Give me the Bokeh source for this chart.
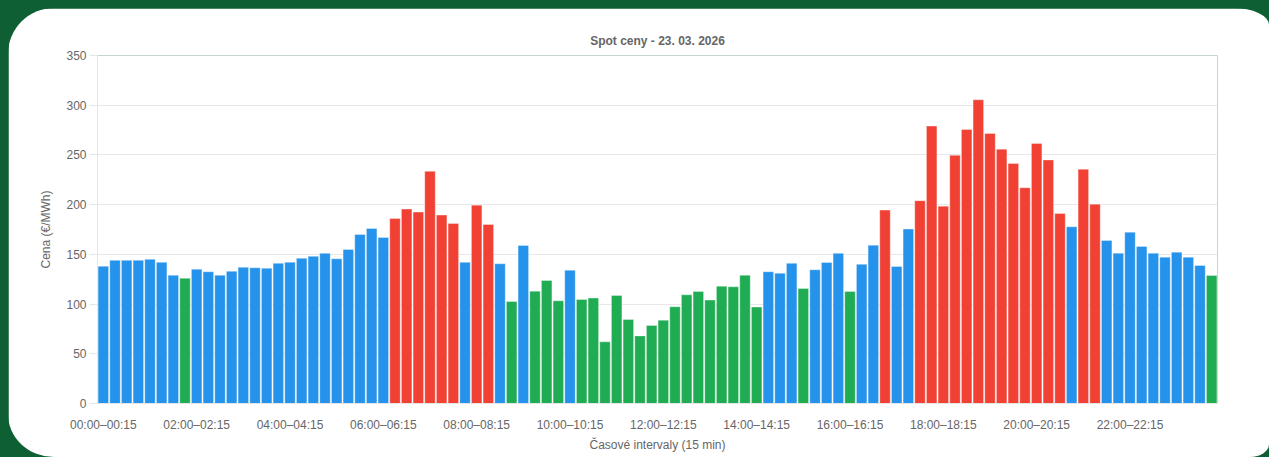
from bokeh.plotting import figure
from bokeh.models import Range1d, FixedTicker, ColumnDataSource, GlobalInlineStyleSheet
from bokeh.embed import file_html
from bokeh.resources import INLINE

# ---- data ----
title_text = "Spot ceny - 23. 03. 2026"
y_label = "Cena (€/MWh)"
x_label = "Časové intervaly (15 min)"

intervals = []
for q in range(96):
    h1, m1 = divmod(q * 15, 60)
    h2, m2 = divmod(q * 15 + 15, 60)
    intervals.append(f"{h1:02d}:{m1:02d}–{h2 % 24:02d}:{m2:02d}")

prices = [
    138, 144, 144, 144, 145, 142, 129, 126, 135, 132.5, 129, 133, 137, 136.5, 136, 141,
    142, 146, 148, 151, 145.5, 155, 170, 176, 167, 186, 195.5, 192.5, 233.5, 189.5, 181, 142,
    199.5, 180, 140.5, 102.6, 159, 113, 123.7, 103.3, 134, 104.6, 106, 62, 108.6, 84.5, 68, 78.5,
    83.8, 97.3, 109.3, 112.7, 104, 118, 117.4, 129, 97, 132.5, 131, 141, 115.7, 134.5, 141.8, 151,
    112.7, 140, 159.2, 194.5, 137.8, 175.4, 204, 279, 198.5, 249.6, 275.6, 305.5, 271.6, 255.8, 241.4, 217,
    261.5, 245, 191, 177.7, 235.7, 200.5, 164, 151.2, 172.3, 158, 151.2, 147.2, 152.2, 147.2, 138.8, 128.8,
]

# price level per interval: L = low (green), M = mid (blue), H = high (red)
levels = (
    "MMMMMMMLMMMMMMMM"
    "MMMMMMMMMHHHHHHM"
    "HHMLMLLLMLLLLLLL"
    "LLLLLLLLLMMMLMMM"
    "LMMHMMHHHHHHHHHH"
    "HHHMHHMMMMMMMMML"
)

level_colors = {"L": "#1fac52", "M": "#2592eb", "H": "#f04134"}
y_ticks = [0, 50, 100, 150, 200, 250, 300, 350]
x_tick_idx = list(range(0, 96, 8))

src = ColumnDataSource(dict(
    x=list(range(len(prices))),
    top=prices,
    color=[level_colors[c] for c in levels],
    label=intervals,
))

p = figure(
    width=1261, height=449,
    output_backend="svg", toolbar_location=None,
    x_range=Range1d(-0.5, 95.5), y_range=Range1d(0, 350),
    min_border_left=89, min_border_right=52, min_border_top=47, min_border_bottom=54,
    background_fill_color="white", border_fill_color="white", outline_line_color=None,
)
p.outline_line_color = None
p.outline_line_alpha = 0
p.styles = {
    "border-top-left-radius": "46px",
    "border-top-right-radius": "36px 17px",
    "border-bottom-right-radius": "19px 13px",
    "border-bottom-left-radius": "46px 43px",
    "overflow": "hidden",
}
p.stylesheets = [GlobalInlineStyleSheet(
    css="html { background-color: #0f5f34; margin: 0; padding: 0; overflow: hidden; } "
        "body { background-color: #0f5f34; margin: 0; padding: 8px 0 0 8px; overflow: hidden; }"
)]

p.vbar(x="x", top="top", width=0.9, source=src, fill_color="color",
       line_color="white", line_alpha=0.35, line_width=1)

font = "Liberation Sans"
txt = "#666666"

p.title.text = title_text
p.title.align = "center"
p.title.text_font = font
p.title.text_font_size = "12px"
p.title.text_font_style = "bold"
p.title.text_color = txt
p.title.standoff = 16

# y axis
p.yaxis.ticker = FixedTicker(ticks=y_ticks)
p.yaxis.axis_label = y_label
p.yaxis.axis_label_text_font = font
p.yaxis.axis_label_text_font_size = "12px"
p.yaxis.axis_label_text_font_style = "normal"
p.yaxis.axis_label_text_color = txt
p.yaxis.axis_label_standoff = 10
p.yaxis.major_label_text_font = font
p.yaxis.major_label_text_font_size = "12px"
p.yaxis.major_label_text_color = txt
p.yaxis.major_label_standoff = 3
p.yaxis.major_tick_out = 8
p.yaxis.major_tick_in = 0
p.yaxis.minor_tick_line_color = None
p.yaxis.major_tick_line_color = "#e6e6e6"
p.yaxis.axis_line_color = "#e6e6e6"

# x axis
p.xaxis.ticker = FixedTicker(ticks=x_tick_idx)
p.xaxis.major_label_overrides = {i: intervals[i] for i in x_tick_idx}
p.xaxis.axis_label = x_label
p.xaxis.axis_label_text_font = font
p.xaxis.axis_label_text_font_size = "12px"
p.xaxis.axis_label_text_font_style = "normal"
p.xaxis.axis_label_text_color = txt
p.xaxis.axis_label_standoff = 3
p.xaxis.major_label_text_font = font
p.xaxis.major_label_text_font_size = "12px"
p.xaxis.major_label_text_color = txt
p.xaxis.major_label_standoff = 14
p.xaxis.major_tick_out = 0
p.xaxis.major_tick_in = 0
p.xaxis.minor_tick_line_color = None
p.xaxis.axis_line_color = "#e6e6e6"

p.xgrid.grid_line_color = None
p.ygrid.grid_line_color = "#e8e8e8"
p.ygrid.grid_line_width = 1

open("out.html", "w").write(file_html(p, INLINE))
